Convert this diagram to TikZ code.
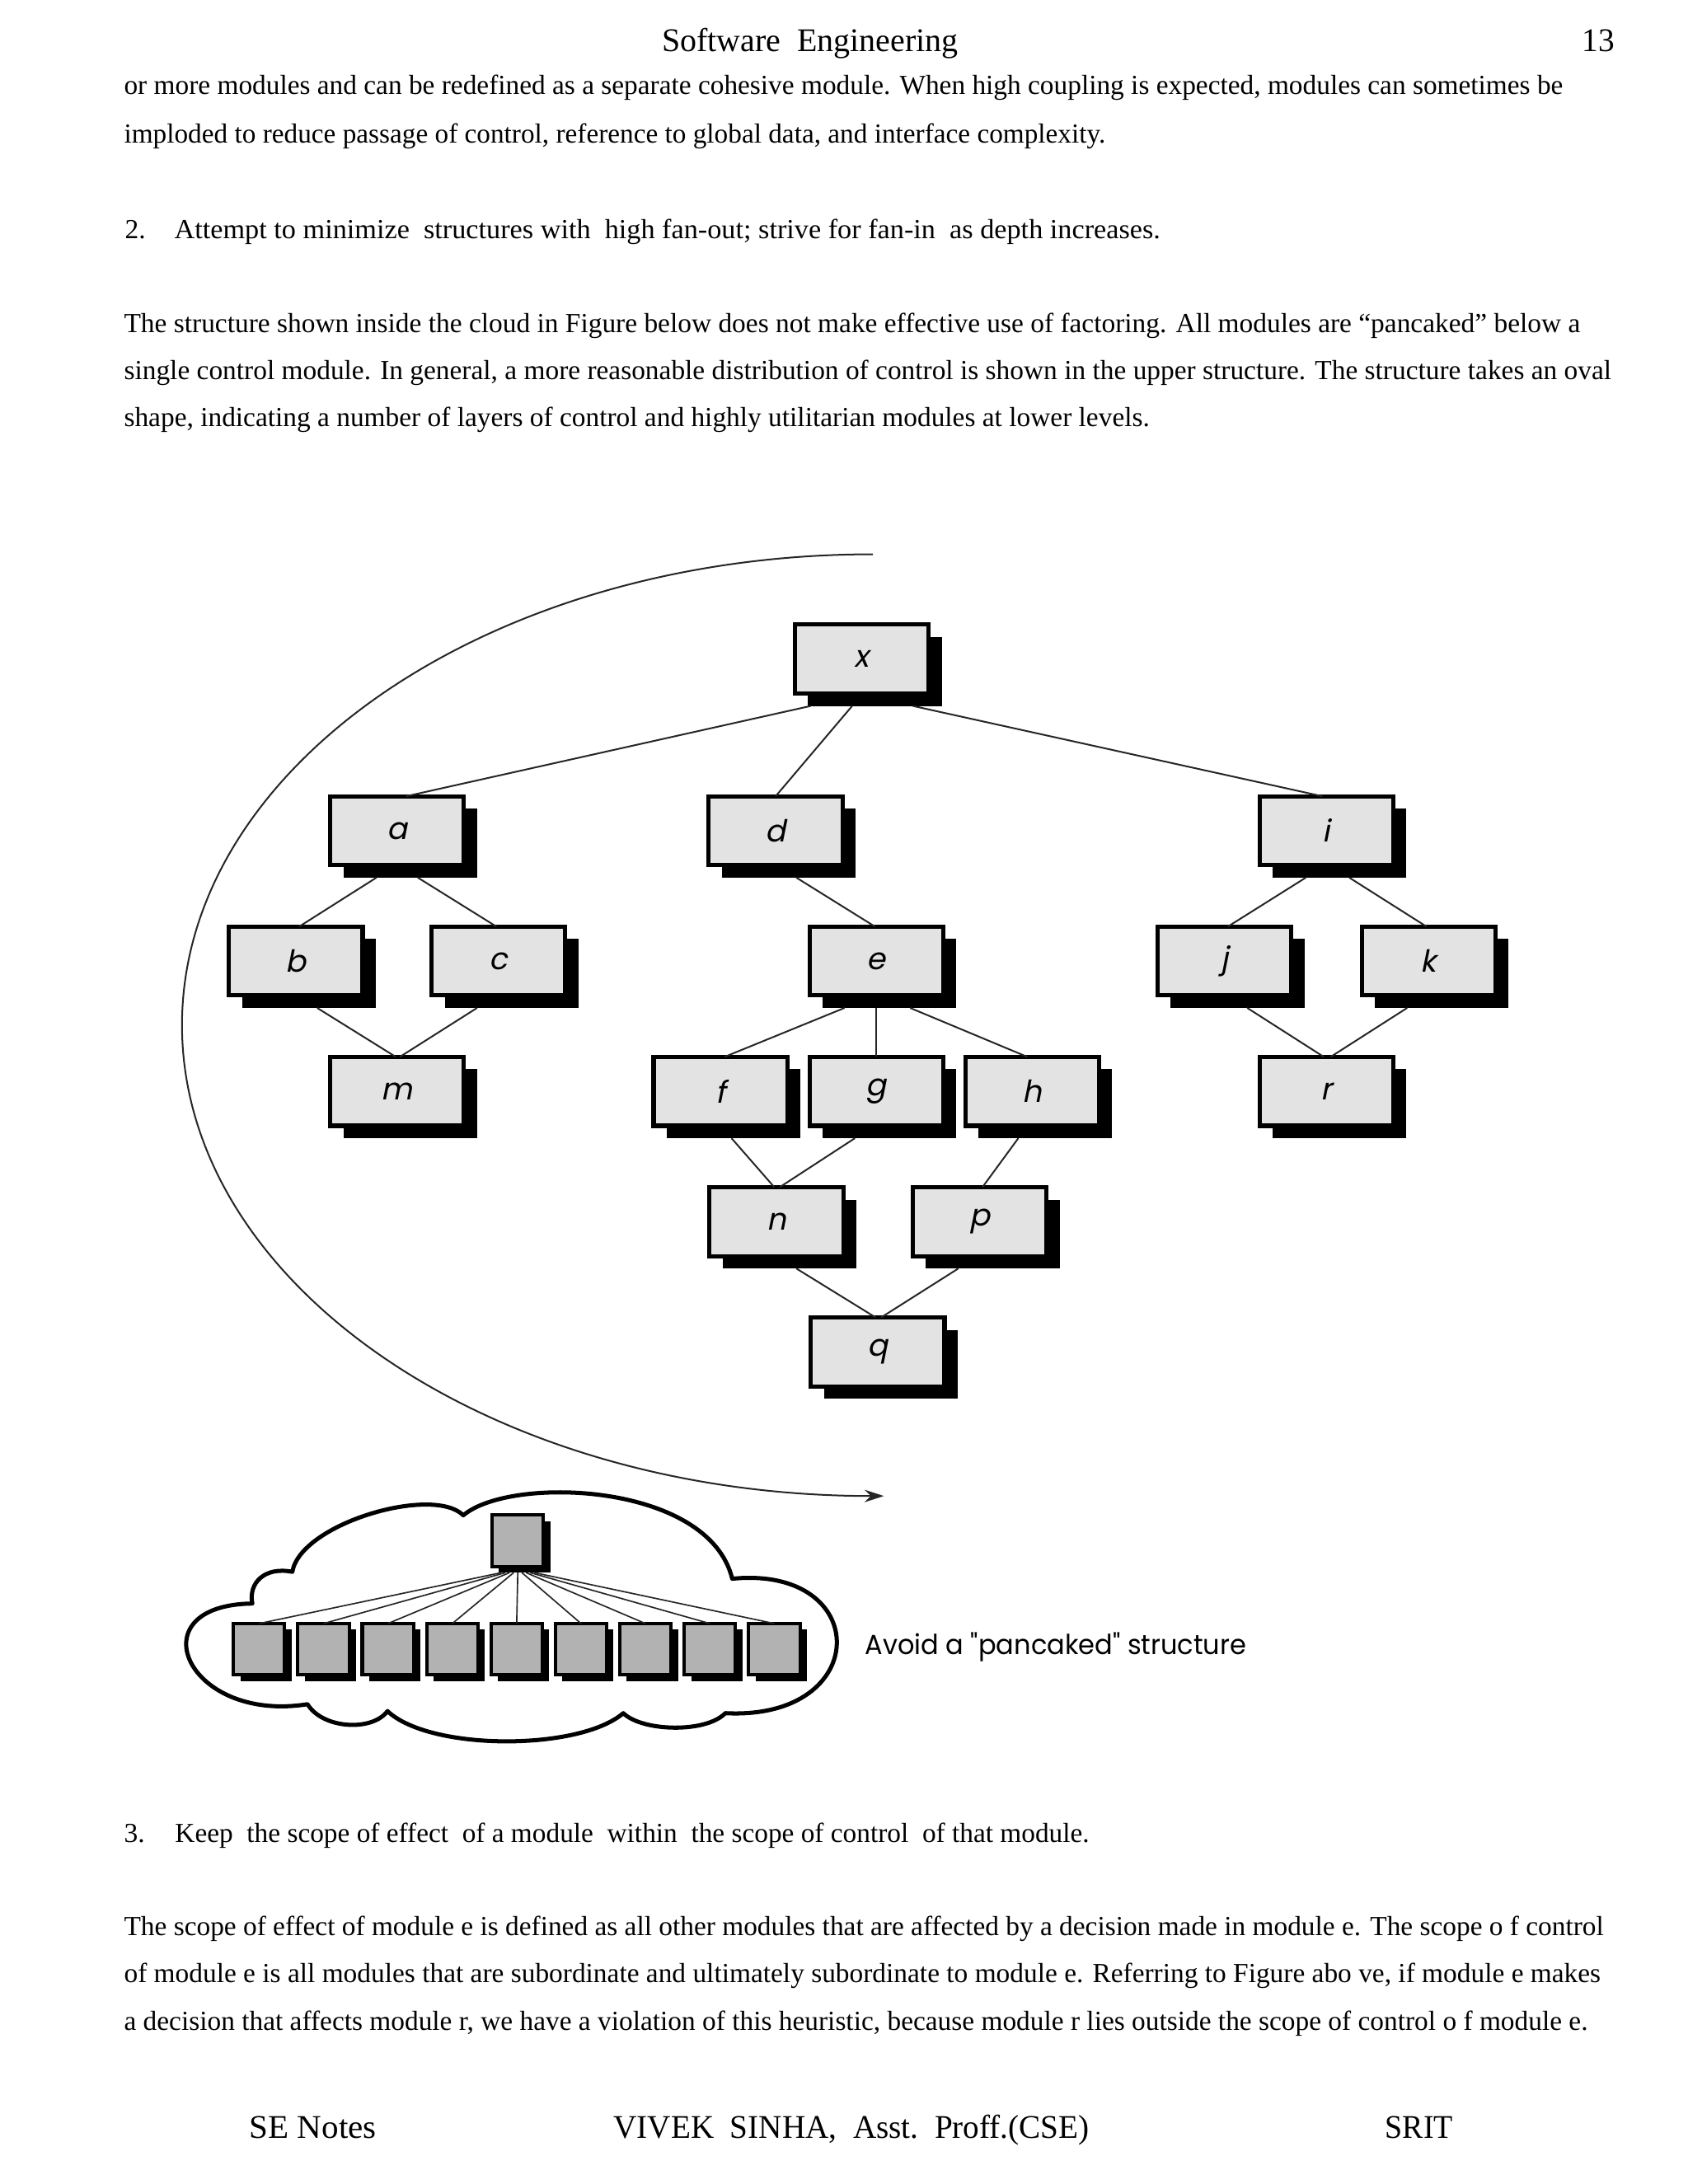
\documentclass[tikz,border=0pt]{standalone}
\usepackage{graphicx}
\usepackage{fontspec}
\setmainfont{Liberation Serif}
\newfontfamily\labfont[FakeSlant=0.2]{Poppins}
\newfontfamily\capfont{Poppins}
\usetikzlibrary{shadows,calc,arrows.meta}
\definecolor{boxgray}{gray}{0.89}
\definecolor{cloudgray}{gray}{0.70}
\newsavebox\fitbox
\newcommand\fitto[2]{\sbox\fitbox{#2}\pgfmathsetmacro\fitr{#1/\the\wd\fitbox}\scalebox{\fitr}[1]{\usebox\fitbox}}
\tikzset{
  txt/.style={anchor=base west, inner sep=0pt, outer sep=0pt, font=\fontsize{10}{12}\selectfont},
  hdr/.style={anchor=base west, inner sep=0pt, outer sep=0pt, font=\fontsize{12}{14}\selectfont},
  mod/.style={draw=black, line width=1.5pt, fill=boxgray, minimum width=48.5pt, minimum height=25pt,
    inner sep=0pt, outer sep=0pt,
    drop shadow={shadow xshift=4.75pt, shadow yshift=-4.5pt, fill=black, opacity=1},
    font=\labfont\fontsize{11}{12}\selectfont},
  cmod/.style={draw=black, line width=1.2pt, fill=cloudgray, minimum width=18.6pt, minimum height=18.6pt,
    inner sep=0pt, outer sep=0pt,
    drop shadow={shadow xshift=2.5pt, shadow yshift=-2.25pt, fill=black, opacity=1}},
  edge/.style={draw=black!85, line width=0.6pt},
  cedge/.style={draw=black!85, line width=0.5pt},
  cloudline/.style={draw=black, line width=1.5pt, line join=round},
  bigarc/.style={draw=black!85, line width=0.6pt, -{Stealth[length=7pt, width=4.5pt]}}
}
\begin{document}
\begin{tikzpicture}[x=0.5pt, y=-0.5pt]
\useasboundingbox (0,0) rectangle (1224,1584);

% header
\node[hdr] (head) at (480,37.4) {\fitto{107.4pt}{Software\ \ Engineering}};
\node[hdr] (pnum) at (1147.5,37.4) {\fitto{11.75pt}{13}};

% upper text
\node[txt] (l1) at (90,68.7) {\fitto{521.75pt}{or more modules and can be redefined as a separate cohesive module. When high coupling is expected, modules can sometimes be}};
\node[txt] (l2) at (90,103.5) {\fitto{355.85pt}{imploded to reduce passage of control, reference to global data, and interface complexity.}};
\node[txt] (n2) at (90.6,173.3) {2.};
\node[txt] (i2) at (126.5,173.3) {\fitto{357.5pt}{Attempt to minimize\ \ structures with\ \ high fan-out; strive for fan-in\ \ as depth increases.}};
\node[txt] (l3) at (90,241.2) {\fitto{528pt}{The structure shown inside the cloud in Figure below does not make effective use of factoring. All modules are “pancaked” below a}};
\node[txt] (l4) at (90,275.4) {\fitto{539.3pt}{single control module. In general, a more reasonable distribution of control is shown in the upper structure. The structure takes an oval}};
\node[txt] (l5) at (90,309.5) {\fitto{371.85pt}{shape, indicating a number of layers of control and highly utilitarian modules at lower levels.}};

% big arc
\coordinate (arcS) at (633,402);
\coordinate (arcE) at (641,1085);
\draw[bigarc] (arcS) .. controls (355,402) and (132,556) .. (132,743.5)
  .. controls (132,931) and (355,1085) .. (arcE);

% module boxes
\node[mod] (x) at (625,478) {x};
\node[mod] (a) at (288,602.5) {a};
\node[mod] (d) at (562.5,602.5) {d};
\node[mod] (i) at (962,602.5) {i};
\node[mod] (b) at (214.5,697) {b};
\node[mod] (c) at (361.5,697) {c};
\node[mod] (e) at (635.5,697) {e};
\node[mod] (j) at (888,697) {j};
\node[mod] (k) at (1036,697) {k};
\node[mod] (m) at (288,791.5) {m};
\node[mod] (f) at (522.5,791.5) {f};
\node[mod] (g) at (635.5,791.5) {g};
\node[mod] (h) at (748.5,791.5) {h};
\node[mod] (r) at (962,791.5) {r};
\node[mod] (n) at (563,886) {n};
\node[mod] (p) at (710.5,886) {p};
\node[mod] (q) at (636.5,980.5) {q};

% connectors
\draw[edge] ($(x.south)+(-37,9)$) -- ($(a.north)+(6.5,0)$);
\draw[edge] ($(x.south)+(-7,9)$) -- (d.north);
\draw[edge] ($(x.south)+(37,9)$) -- ($(i.north)+(-3,0)$);
\draw[edge] ($(a.south)+(-15,9)$) -- ($(b.north)+(2.5,0)$);
\draw[edge] ($(a.south)+(15,9)$) -- ($(c.north)+(-1.5,0)$);
\draw[edge] ($(d.south)+(15,9)$) -- ($(e.north)+(-1,0)$);
\draw[edge] ($(i.south)+(-15,9)$) -- ($(j.north)+(2.5,0)$);
\draw[edge] ($(i.south)+(16.5,9)$) -- ($(k.north)+(-1.5,0)$);
\draw[edge] ($(b.south)+(15.5,9)$) -- ($(m.north)+(-1,0)$);
\draw[edge] ($(c.south)+(-15.5,9)$) -- ($(m.north)+(2,0)$);
\draw[edge] ($(e.south)+(-23,9)$) -- ($(f.north)+(3,0)$);
\draw[edge] ($(e.south)+(0,9)$) -- (g.north);
\draw[edge] ($(e.south)+(24.5,9)$) -- ($(h.north)+(-3.5,0)$);
\draw[edge] ($(j.south)+(16.5,9)$) -- ($(r.north)+(-2,0)$);
\draw[edge] ($(k.south)+(-15.5,9)$) -- ($(r.north)+(3,0)$);
\draw[edge] ($(f.south)+(8,9)$) -- ($(n.north)+(-1.5,0)$);
\draw[edge] ($(g.south)+(-15.5,9)$) -- ($(n.north)+(2.5,0)$);
\draw[edge] ($(h.south)+(-10,9)$) -- ($(p.north)+(2,0)$);
\draw[edge] ($(n.south)+(14.5,9)$) -- ($(q.north)+(-1.5,0)$);
\draw[edge] ($(p.south)+(-15.5,9)$) -- ($(q.north)+(2.5,0)$);

% cloud
\draw[cloudline] (183,1163) .. controls (180,1148) and (192,1136) .. (212,1140)
  .. controls (218,1105) and (314,1077) .. (336,1099)
  .. controls (370,1070) and (514,1075) .. (531,1145)
  .. controls (633,1135) and (633,1248) .. (526,1242.5)
  .. controls (512,1257) and (466,1256) .. (452,1242.5)
  .. controls (420,1270) and (311.7,1270) .. (281,1241)
  .. controls (270,1256) and (234,1254) .. (223,1236)
  .. controls (135,1250) and (98,1164) .. cycle;

\node[cmod] (ctop) at (375.5,1117.5) {};
\foreach \k in {1,...,9} {
  \node[cmod] (cb\k) at ({187.9+(\k-1)*46.7},1196.1) {};
}
\foreach \k in {1,...,9} {
  \draw[cedge] ($(ctop.south)+({(\k-5)*3},4.5)$) -- (cb\k.north);
}

\node[anchor=base west, inner sep=0pt, outer sep=0pt, font=\capfont\fontsize{10}{12}\selectfont] (cap) at (627.4,1200) {\fitto{138.25pt}{Avoid a "pancaked" structure}};

% lower text
\node[txt] (n3) at (90,1336) {3.};
\node[txt] (i3) at (127,1336) {\fitto{331.5pt}{Keep\ \ the scope of effect\ \ of a module\ \ within\ \ the scope of control\ \ of that module.}};
\node[txt] (l6) at (90,1403.5) {\fitto{536.5pt}{The scope of effect of module e is defined as all other modules that are affected by a decision made in module e. The scope o f control}};
\node[txt] (l7) at (90,1438) {\fitto{535.4pt}{of module e is all modules that are subordinate and ultimately subordinate to module e. Referring to Figure abo ve, if module e makes}};
\node[txt] (l8) at (90,1472.5) {\fitto{530.75pt}{a decision that affects module r, we have a violation of this heuristic, because module r lies outside the scope of control o f module e.}};

% footer
\node[hdr] (f1) at (181,1551) {\fitto{46pt}{SE Notes}};
\node[hdr] (f2) at (445,1551) {\fitto{172.5pt}{VIVEK\ \ SINHA,\ \ Asst.\ \ Proff.(CSE)}};
\node[hdr] (f3) at (1004.7,1551) {\fitto{24.55pt}{SRIT}};
\end{tikzpicture}
\end{document}
